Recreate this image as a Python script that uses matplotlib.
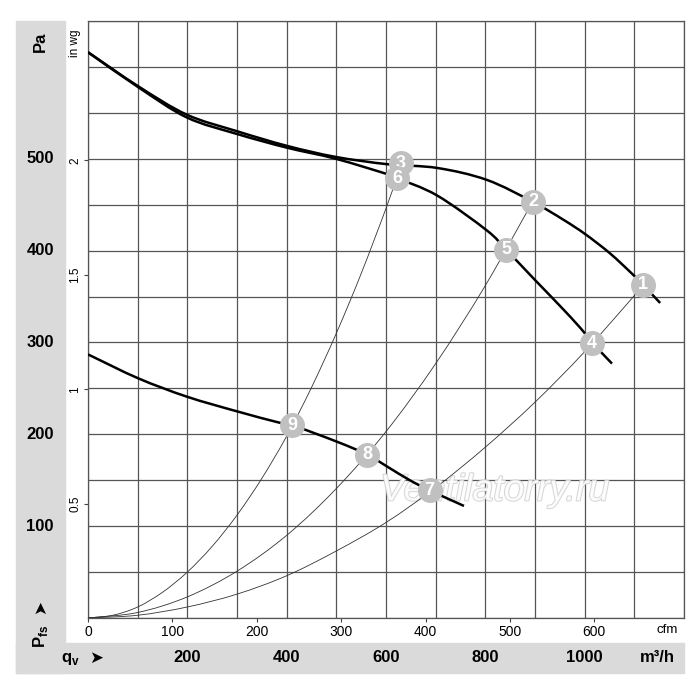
import numpy as np
import matplotlib
matplotlib.use("Agg")
import matplotlib.pyplot as plt
import matplotlib.patheffects as pe
from matplotlib.patches import Rectangle, PathPatch
from matplotlib.path import Path

plt.rcParams['font.family'] = ['Liberation Sans', 'DejaVu Sans']
plt.rcParams['mathtext.fontset'] = 'custom'
plt.rcParams['mathtext.rm'] = 'Liberation Sans'
plt.rcParams['mathtext.bf'] = 'Liberation Sans:bold'

# fan curves, airflow in m3/h, static pressure in Pa
curve_a_q = [0, 101, 199, 300, 401, 499, 604, 703, 803, 896, 956, 1001, 1051, 1097, 1117, 1152]
curve_a_p = [616, 579, 548, 530, 514, 502, 494, 490, 477, 453, 434, 418, 397, 374, 363, 343]

curve_b_q = [0, 101, 199, 300, 401, 499, 604, 622, 703, 803, 842, 900, 950, 991, 1015, 1055]
curve_b_p = [616, 578, 545, 527, 512, 500, 483, 479, 460, 422, 401, 368, 340, 316, 300, 277]

curve_c_q = [0, 101, 199, 300, 383, 411, 501, 562, 602, 648, 688, 757]
curve_c_p = [287, 261, 241, 225, 213, 210, 192, 178, 165, 150, 139, 122]

# system resistance curves
sys1_q = [0, 50, 100, 150, 200, 250, 300, 350, 400, 450, 500, 550, 600, 632]
sys1_p = [0, 3, 12, 28, 50, 78, 112, 152, 198, 251, 310, 375, 446, 495]
sys2_q = [0, 100, 200, 300, 400, 500, 600, 700, 800, 896]
sys2_p = [0, 6, 23, 51, 90, 141, 203, 277, 362, 454]
sys3_q = [0, 100, 200, 300, 400, 500, 600, 700, 800, 900, 1000, 1100, 1117]
sys3_p = [0, 3, 12, 26, 46, 73, 104, 142, 186, 235, 290, 351, 362]

# numbered operating points
pt_labels = ['1', '2', '3', '4', '5', '6', '7', '8', '9']
pt_q = [1117, 896, 630, 1015, 842, 622, 688, 562, 411]
pt_p = [363, 453, 495, 299, 401, 479, 139, 178, 210]

pa_ticks = [100, 200, 300, 400, 500]
m3h_ticks = [200, 400, 600, 800, 1000]
inwg_ticks = [0.5, 1, 1.5, 2]
cfm_ticks = [0, 100, 200, 300, 400, 500, 600]


def smooth_path(q, p):
    # Catmull-Rom through the read points, drawn as cubic Bezier segments
    pts = np.column_stack([q, p]).astype(float)
    ext = np.vstack([2 * pts[0] - pts[1], pts, 2 * pts[-1] - pts[-2]])
    verts = [pts[0]]
    codes = [Path.MOVETO]
    for i in range(1, len(ext) - 2):
        p0, p1, p2, p3 = ext[i - 1], ext[i], ext[i + 1], ext[i + 2]
        verts += [p1 + (p2 - p0) / 6, p2 - (p3 - p1) / 6, p2]
        codes += [Path.CURVE4] * 3
    return Path(verts, codes)


W, H = 700, 699
fig = plt.figure(figsize=(7, 6.99), dpi=100)

band = '#dadada'
fig.patches.append(Rectangle((16 / W, 1 - 673 / H), 49 / W, 652 / H,
                             transform=fig.transFigure, color=band, zorder=-2))
fig.patches.append(Rectangle((16 / W, 1 - 673 / H), 668 / W, 30 / H,
                             transform=fig.transFigure, color=band, zorder=-2))

ax = fig.add_axes([88 / W, 1 - 618 / H, 596 / W, 597 / H])
ax.set_xlim(0, 1200)
ax.set_ylim(0, 650)
ax.set_xticks(np.arange(0, 1201, 100))
ax.set_yticks(np.arange(0, 651, 50))
ax.set_axisbelow(True)
gcol = '#555555'
ax.grid(True, color=gcol, lw=0.9)
ax.tick_params(length=0, labelbottom=False, labelleft=False)
for s in ax.spines.values():
    s.set_color(gcol)
    s.set_linewidth(0.9)

ax.text(588, 128, 'Ventilatorry.ru', fontsize=27, style='italic', color='white',
        ha='left', va='baseline', zorder=1, alpha=0.85,
        path_effects=[pe.withStroke(linewidth=1.4, foreground='#cfcfcf')])

for q, p in [(sys1_q, sys1_p), (sys2_q, sys2_p), (sys3_q, sys3_p)]:
    ax.add_patch(PathPatch(smooth_path(q, p), fill=False, edgecolor='#333333',
                           lw=0.6, zorder=3))
for q, p in [(curve_a_q, curve_a_p), (curve_b_q, curve_b_p), (curve_c_q, curve_c_p)]:
    ax.add_patch(PathPatch(smooth_path(q, p), fill=False, edgecolor='black',
                           lw=1.8, zorder=4, capstyle='butt'))

for i, (lab, q, p) in enumerate(zip(pt_labels, pt_q, pt_p)):
    z = 5 + 2 * i
    ax.plot(q, p, 'o', ms=18, color='#c0c0c0', mec='none', zorder=z)
    ax.text(q, p, lab, color='white', fontsize=13, fontweight='bold',
            ha='center', va='center', zorder=z + 1)

# inner scales: in wg and cfm
sec_y = ax.secondary_yaxis('left', functions=(lambda p: p / 249.09, lambda w: w * 249.09))
sec_y.set_yticks(inwg_ticks)
sec_y.set_yticklabels(['0.5', '1', '1.5', '2'])
sec_y.spines['left'].set_visible(False)
sec_y.tick_params(length=3, width=0.8, color='#444444', labelsize=8.5, pad=2, labelrotation=90)
for t in sec_y.get_yticklabels():
    t.set_va('center')

sec_x = ax.secondary_xaxis('bottom', functions=(lambda q: q / 1.699, lambda c: c * 1.699))
sec_x.set_xticks(cfm_ticks)
sec_x.spines['bottom'].set_visible(False)
sec_x.tick_params(length=3, width=0.8, color='#444444', labelsize=10, pad=2)

# outer scales: Pa and m3/h
for v in pa_ticks:
    ax.text(-0.0805, v, str(v), transform=ax.get_yaxis_transform(), ha='center',
            va='center', fontsize=12, fontweight='bold', clip_on=False)
for v in m3h_ticks:
    ax.text(v, -0.067, str(v), transform=ax.get_xaxis_transform(), ha='center',
            va='center', fontsize=12, fontweight='bold', clip_on=False)

arrow_font = ['DejaVu Sans']
fig.text(40 / W, 1 - 42 / H, 'Pa', rotation=90, ha='center', va='center',
         fontsize=12, fontweight='bold')
fig.text(41 / W, 1 - 636 / H, r'$\mathbf{P}_{\mathbf{fs}}$', rotation=90,
         ha='center', va='center', fontsize=12)
fig.text(40 / W, 1 - 607 / H, '➤', rotation=90, ha='center', va='center',
         fontsize=12, family=arrow_font)
fig.text(70 / W, 1 - 659 / H, r'$\mathbf{q}_{\mathbf{v}}$', ha='center',
         va='center', fontsize=12)
fig.text(96 / W, 1 - 658 / H, '➤', ha='center', va='center', fontsize=12,
         family=arrow_font)
fig.text(657 / W, 1 - 658 / H, 'm³/h', ha='center', va='center',
         fontsize=12, fontweight='bold')
fig.text(75 / W, 1 - 43 / H, 'in wg', rotation=90, ha='center', va='center',
         fontsize=8.5)
fig.text(667 / W, 1 - 630 / H, 'cfm', ha='center', va='center', fontsize=9.5)

fig.savefig('out.png', dpi=100)
